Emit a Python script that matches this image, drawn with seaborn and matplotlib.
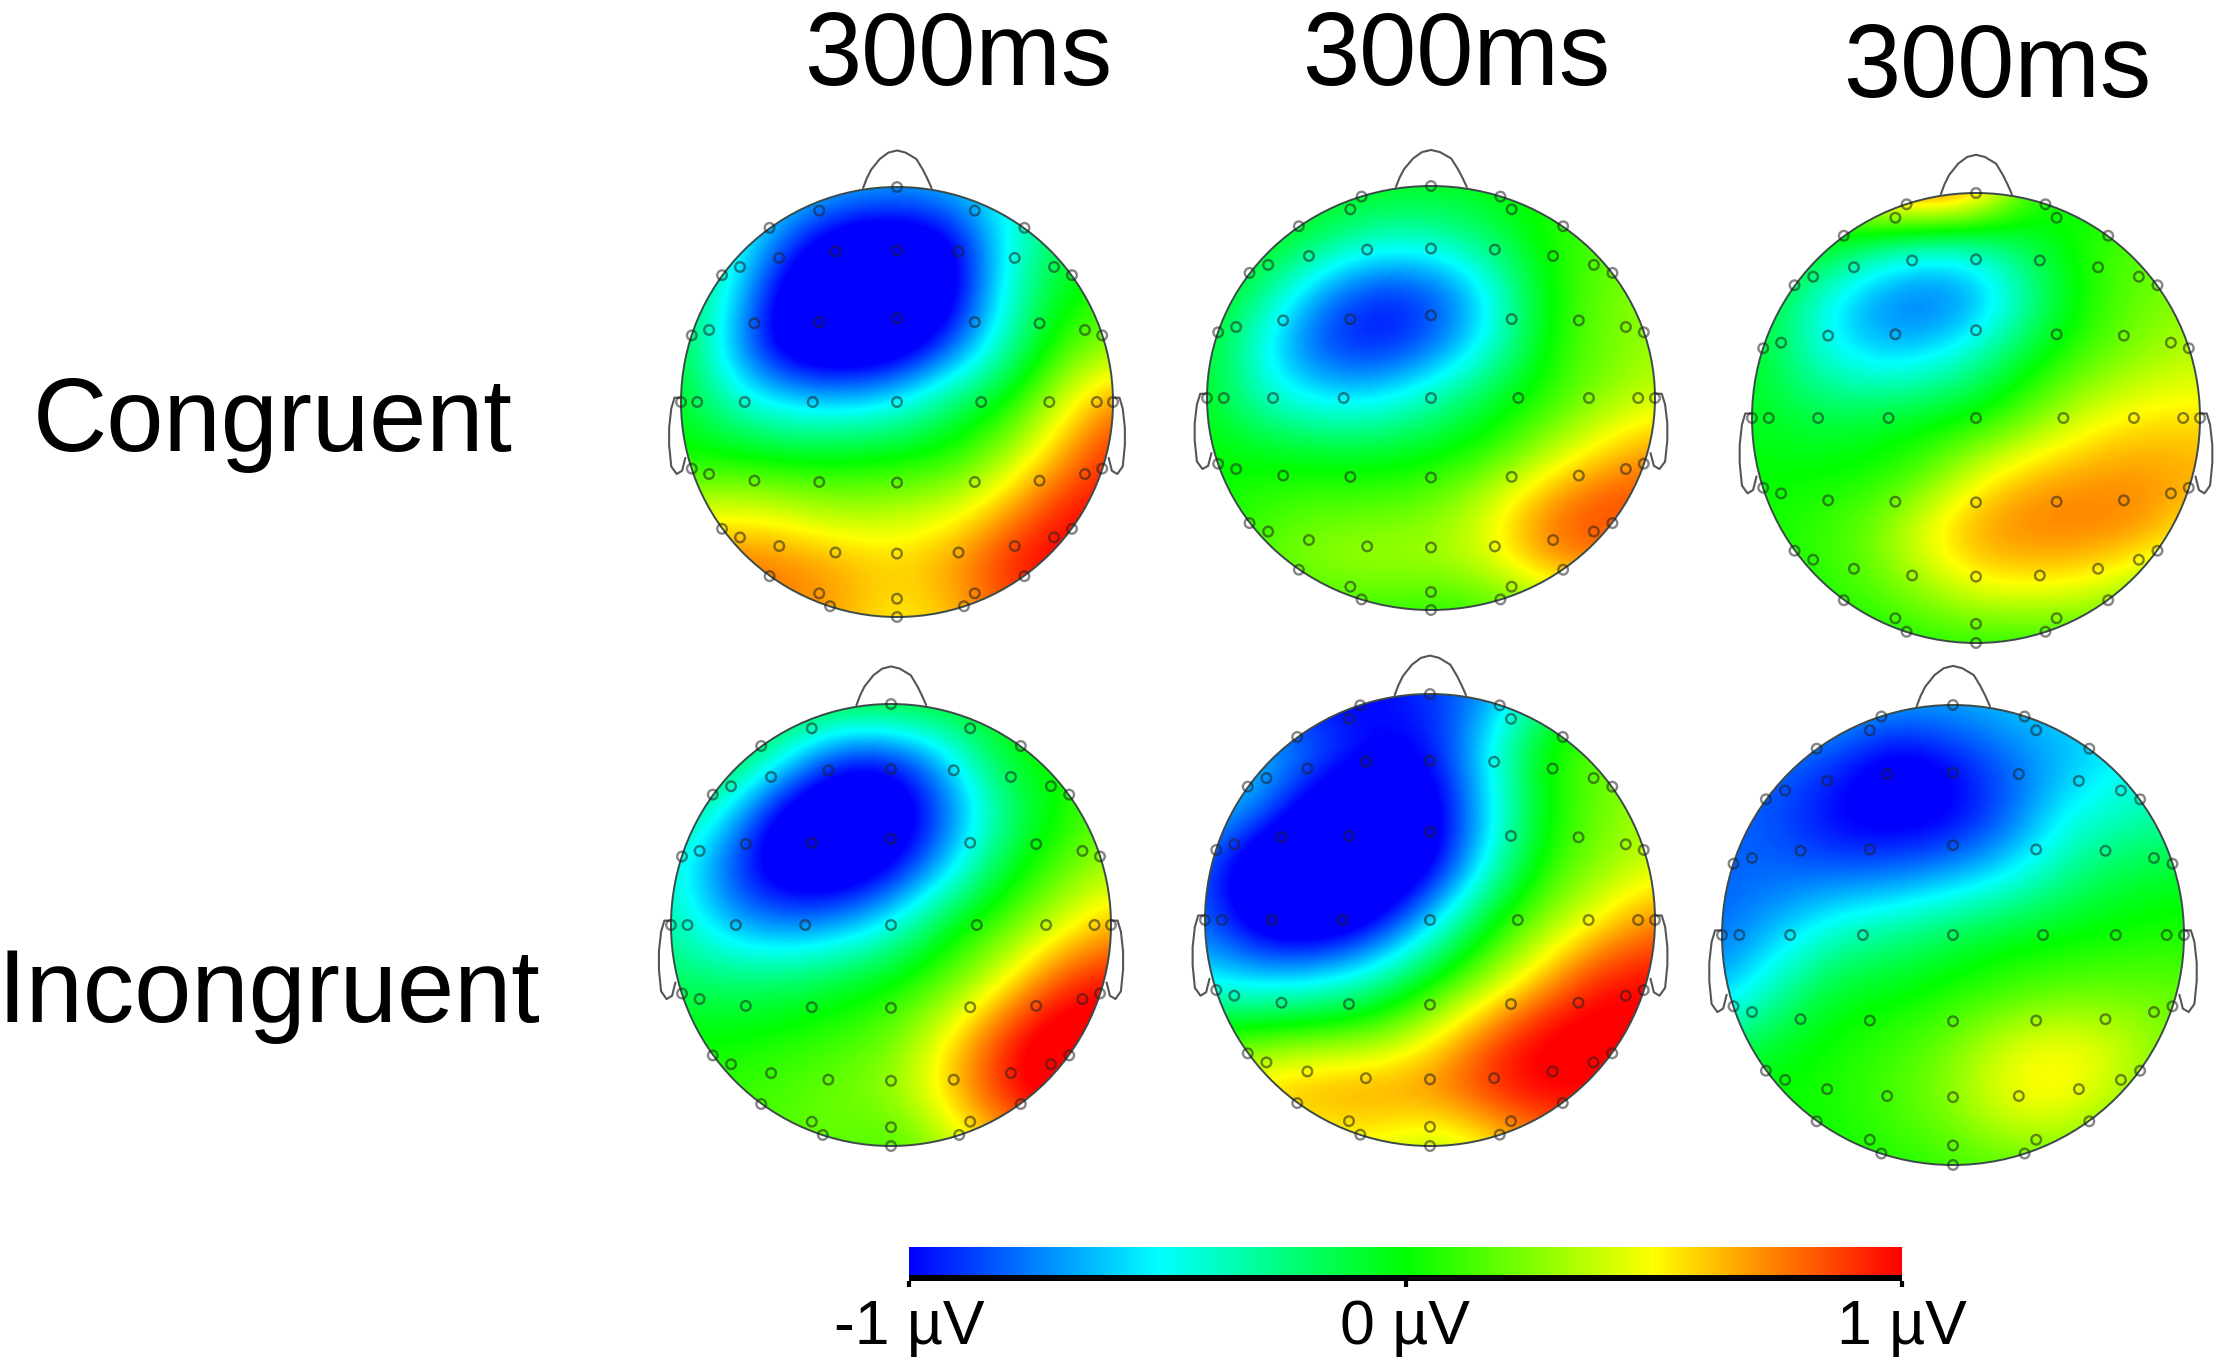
import numpy as np
import matplotlib
matplotlib.use('Agg')
import matplotlib.pyplot as plt
from matplotlib.colors import LinearSegmentedColormap
from matplotlib.patches import Ellipse
import seaborn as sns

sns.set_theme(style='white')
plt.rcParams['font.family'] = ['Liberation Sans', 'DejaVu Sans']

W, H = 2217, 1371

#Amplitudes in uV, rows run front to back, columns left to right
#The maps saturate at +-1, so the core of a blob is allowed past that
head_1 = [[-.30, -.40, -.50, -.60, -.65, -.60, -.45, -.30, -.20],
          [-.20, -.40, -.85, -1.2, -1.25, -1.1, -.50, -.15, 0],
          [-.10, -.55, -1.2, -1.4, -1.4, -1.15, -.45, -.05, .10],
          [-.10, -.70, -1.2, -1.3, -1.2, -.85, -.35, .10, .30],
          [-.05, -.40, -.55, -.60, -.50, -.20, 0, .40, .75],
          [0, 0, -.05, -.02, 0, .05, .30, .65, .95],
          [.40, .45, .40, .30, .35, .42, .65, .95, 1.0],
          [.80, .80, .75, .68, .60, .70, .95, 1.05, 1.0],
          [.90, .80, .75, .65, .50, .60, .80, .90, .90]]
head_2 = [[0, 0, -.02, -.03, -.05, -.02, .05, .10, .10],
          [0, 0, -.15, -.35, -.35, -.20, .03, .15, .20],
          [0, -.25, -.70, -.95, -.90, -.55, -.03, .20, .30],
          [-.05, -.50, -.90, -1.0, -.85, -.50, 0, .20, .30],
          [-.05, -.40, -.55, -.55, -.35, -.10, .05, .25, .40],
          [0, -.03, -.08, -.08, -.03, .05, .30, .55, .70],
          [0, .10, .15, .15, .20, .42, .72, .88, .90],
          [0, .20, .30, .35, .35, .45, .75, .85, .60],
          [0, .05, .10, .10, .05, .10, .20, .30, .30]]
head_3 = [[0, .20, .70, 1.0, .80, .10, 0, 0, 0],
          [0, 0, -.25, -.50, -.45, -.15, .08, .20, .20],
          [0, -.40, -.75, -.85, -.75, -.30, .05, .20, .30],
          [-.05, -.35, -.55, -.55, -.30, -.02, .15, .30, .38],
          [-.05, -.12, -.10, -.02, 0, .20, .45, .55, .55],
          [0, 0, .02, .12, .45, .65, .70, .72, .68],
          [.02, .10, .20, .50, .72, .78, .78, .74, .50],
          [0, .05, .15, .30, .50, .52, .48, .30, .20],
          [0, 0, 0, .05, .05, .05, .05, .02, 0]]
head_4 = [[0, 0, -.02, -.05, -.03, -.05, 0, .05, .10],
          [0, -.05, -.45, -.95, -1.0, -.60, -.10, .05, .10],
          [-.20, -.55, -1.15, -1.35, -1.25, -.85, -.30, 0, .20],
          [-.40, -.85, -1.2, -1.25, -1.05, -.60, -.10, .15, .35],
          [-.30, -.65, -.75, -.70, -.45, -.05, .15, .40, .65],
          [-.20, -.20, -.20, -.10, 0, .15, .45, .85, 1.0],
          [0, 0, .05, .10, .20, .50, .90, 1.15, 1.1],
          [.10, .10, .15, .22, .30, .60, .95, 1.15, .90],
          [.05, .10, .15, .20, .10, .30, .60, .80, .80]]
head_5 = [[-.90, -1.0, -1.05, -1.0, -.90, -.75, -.30, 0, .10],
          [-.50, -.60, -.75, -1.0, -1.0, -.50, .05, .20, .30],
          [-.55, -.70, -1.2, -1.3, -1.15, -.60, -.02, .20, .35],
          [-.80, -1.3, -1.4, -1.35, -1.15, -.50, .05, .25, .40],
          [-.80, -1.2, -1.3, -1.1, -.60, -.05, .25, .50, .75],
          [-.55, -.65, -.60, -.40, -.05, .25, .60, .95, 1.0],
          [0, .10, .15, .20, .45, .80, 1.05, 1.1, 1.0],
          [.60, .65, .75, .75, .78, .95, 1.05, 1.0, .90],
          [.40, .40, .40, .45, .30, .45, .70, .80, .80]]
head_6 = [[-.50, -.55, -.60, -.65, -.65, -.60, -.55, -.55, -.55],
          [-.75, -.80, -.90, -1.15, -1.0, -.80, -.65, -.50, -.45],
          [-.80, -.85, -1.05, -1.1, -1.05, -.82, -.45, -.35, -.30],
          [-.80, -.80, -.78, -.75, -.65, -.50, -.25, -.10, -.05],
          [-.80, -.60, -.35, -.25, -.12, -.03, 0, .03, .05],
          [-.65, -.30, -.05, -.02, .05, .12, .18, .20, .20],
          [-.15, -.03, .05, .12, .25, .48, .55, .42, .20],
          [0, .02, .05, .15, .28, .50, .50, .30, .15],
          [0, 0, .02, .05, .10, .15, .15, .10, .05]]

heads = [head_1, head_2, head_3, head_4, head_5, head_6]
time_labels = ['300ms', '300ms', '300ms']
row_labels = ['Congruent', 'Incongruent']
scale_ticks = [-1, 0, 1]
scale_labels = ['-1 µV', '0 µV', '1 µV']

#Electrode layout, one side only, mirrored below
side_x = [.36, .59, .285, .545, .727, .81, .95, .87, .66, .36, 1.0, .925, .705, .39,
          .95, .87, .66, .36, .81, .727, .545, .285, .59, .36, .31]
side_y = [.89, .81, .70, .67, .628, .59, .31, .335, .366, .372, 0, 0, 0, 0,
          -.31, -.335, -.366, -.372, -.59, -.63, -.67, -.70, -.81, -.89, -.95]
mid_y = [1.0, .705, .39, 0, -.375, -.705, -.915, -1.0]
front_x, front_y = .31, .95

#centre x, centre y, radius x, radius y in pixels, and whether the extra frontal pair shows
placement = [(897, 402, 216, 215, False), (1431, 398, 224, 212, True), (1976, 418, 224, 225, True),
             (891, 925, 220, 221, False), (1430, 920, 225, 226, True), (1953, 935, 231, 230, True)]

nose_x = [-.157, -.14, -.12, -.08, -.04, 0, .04, .09, .12, .14, .16]
nose_y = [.995, 1.04, 1.08, 1.13, 1.16, 1.17, 1.16, 1.13, 1.08, 1.04, .995]
ear_x = [1.0, 1.03, 1.045, 1.055, 1.055, 1.045, 1.02, .995, .98]
ear_y = [.02, .02, -.03, -.12, -.2, -.3, -.335, -.32, -.26]

#Same stops as the scale bar: blue, cyan, green, yellow, red
eeg_cmap = LinearSegmentedColormap.from_list('eeg', ['#0000ff', '#00ffff', '#00ff00', '#ffff00', '#ff0000'])

fig = plt.figure(figsize=(W / 100, H / 100), dpi=100, facecolor='white')


def draw_head(grid, cx, cy, rx, ry, front):
    ax = fig.add_axes([(cx - 1.2 * rx) / W, 1 - (cy + 1.2 * ry) / H, 2.4 * rx / W, 2.4 * ry / H])
    im = ax.imshow(grid, cmap=eeg_cmap, vmin=-1, vmax=1, interpolation='bicubic',
                   extent=[-1.125, 1.125, -1.125, 1.125], aspect='auto', zorder=1)
    outline = Ellipse((0, 0), 2, 2, fill=False, edgecolor='#3c4a4a', linewidth=1.4, zorder=3)
    ax.add_patch(outline)
    im.set_clip_path(outline)

    ax.plot(nose_x, nose_y, color='#555555', lw=1.5, clip_on=False, zorder=2)
    for sign in [-1, 1]:
        ax.plot(sign * np.array(ear_x), ear_y, color='#555555', lw=1.5, clip_on=False, zorder=2)

    xs = side_x + [-v for v in side_x] + [0] * len(mid_y)
    ys = side_y + side_y + mid_y
    if front:
        xs = xs + [front_x, -front_x]
        ys = ys + [front_y, front_y]
    sns.scatterplot(x=xs, y=ys, ax=ax, s=48, marker='o', facecolor='none',
                    edgecolor=(0.13, 0.13, 0.13, 0.55), linewidth=1.7, clip_on=False, zorder=4)
    ax.set_xlim(-1.2, 1.2)
    ax.set_ylim(-1.2, 1.2)
    ax.axis('off')


for grid, place in zip(heads, placement):
    draw_head(grid, *place)

#Scale bar
cax = fig.add_axes([909 / W, 1 - 1275 / H, (1902 - 909) / W, 28 / H])
sns.heatmap(np.linspace(-1, 1, 256).reshape(1, -1), ax=cax, cmap=eeg_cmap, vmin=-1, vmax=1,
            cbar=False, xticklabels=False, yticklabels=False)
cax.set_xticks([])
cax.set_yticks([])
for s in cax.spines.values():
    s.set_visible(False)

tax = fig.add_axes([909 / W, 1 - 1281 / H, (1902 - 909) / W, 6 / H], facecolor='black')
tax.set_xlim(-1, 1)
tax.set_yticks([])
tax.set_xticks(scale_ticks)
tax.set_xticklabels(scale_labels, fontsize=45, color='black')
tax.tick_params(axis='x', length=4, width=3, color='black', pad=8, bottom=True)
for s in tax.spines.values():
    s.set_visible(False)

#Column and row titles
for label, px, py in zip(time_labels, [958, 1456, 1997], [59, 59, 70]):
    fig.text(px / W, 1 - py / H, label, fontsize=74, ha='center', va='center', color='black')
for label, px, py in zip(row_labels, [273, 269], [424, 995]):
    fig.text(px / W, 1 - py / H, label, fontsize=74, ha='center', va='center', color='black')

fig.savefig('out.png', dpi=100, facecolor='white')
